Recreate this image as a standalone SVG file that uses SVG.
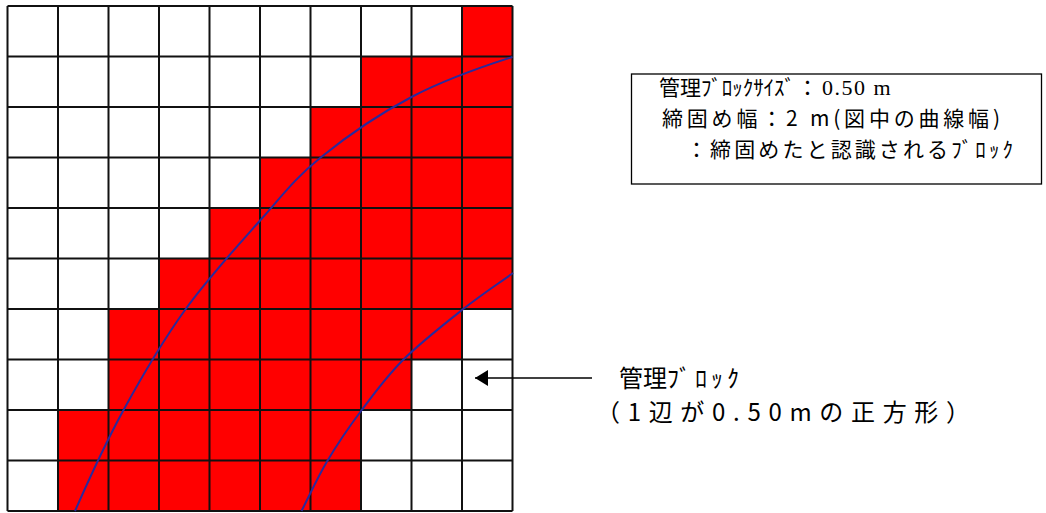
<svg xmlns="http://www.w3.org/2000/svg" width="1046" height="513" viewBox="0 0 1046 513">
<style>
.jp{font-family:"Noto Sans CJK JP","Noto Sans",sans-serif;fill:#000}
.lg{font-size:21px}
.lb{font-size:24px}
.serif{font-family:"Liberation Serif",serif;font-size:22px}
.grid{fill:none;stroke:#111;stroke-width:2}
.curve{fill:none;stroke:#2A2A9C;stroke-width:2}
.box{fill:#fff;stroke:#000;stroke-width:1.3}
.conn{stroke:#000;stroke-width:1.3;fill:none}
</style>
<defs>
<marker id="ah" markerWidth="14" markerHeight="16" refX="13" refY="8" orient="auto" markerUnits="userSpaceOnUse">
<path d="M0,0 L13,8 L0,16 Z" fill="#000"/>
</marker>
</defs>
<rect width="1046" height="513" fill="#fff"/>
<g id="grid">
<path d="M462,6 H512.5 V309 H462 V359.5 H411.5 V410 H361 V511 H58 V410 H108.5 V309 H159 V258.5 H209.5 V208 H260 V157.5 H310.5 V107 H361 V56.5 H462 Z" fill="#FF0000"/>
<path class="grid" d="M7.5,6 V511 M58,6 V511 M108.5,6 V511 M159,6 V511 M209.5,6 V511 M260,6 V511 M310.5,6 V511 M361,6 V511 M411.5,6 V511 M462,6 V511 M512.5,6 V511 M7.5,6 H512.5 M7.5,56.5 H512.5 M7.5,107 H512.5 M7.5,157.5 H512.5 M7.5,208 H512.5 M7.5,258.5 H512.5 M7.5,309 H512.5 M7.5,359.5 H512.5 M7.5,410 H512.5 M7.5,460.5 H512.5 M7.5,511 H512.5"/>
</g>
<g id="curves">
<path class="curve" d="M512.5,57 C480.1,67.3 443.6,80.2 411.5,97 C379.4,113.8 345.2,137.5 320,158 C294.8,178.5 283,194.7 260.5,220 C238,245.3 207.9,278.2 185,310 C162.1,341.8 141.3,377.5 123,411 C104.7,444.5 89.1,479 75,511"/>
<path class="curve" d="M513,273 C496,285.3 480.3,295.5 462,310 C443.7,324.5 419.8,343.2 403,360 C386.2,376.8 373.7,394.1 361,411 C348.3,427.9 336.9,444.8 327,461.5 C317.1,478.2 310,494.5 301.5,511"/>
</g>
<g id="legend">
<rect class="box" x="631.5" y="74" width="410" height="110"/>
<text class="jp lg" y="95"><tspan x="659" textLength="136" lengthAdjust="spacing">管理ﾌﾞﾛｯｸｻｲｽﾞ</tspan><tspan x="797">：</tspan><tspan class="serif" x="822" letter-spacing="1.5">0.50 m</tspan></text>
<text class="jp lg" x="662" y="126" textLength="338" lengthAdjust="spacing">締固め幅：2 m(図中の曲線幅)</text>
<text class="jp lg" x="686" y="157" textLength="327" lengthAdjust="spacing">：締固めたと認識されるﾌﾞﾛｯｸ</text>
</g>
<g id="label-block">
<text class="jp lb" y="387"><tspan x="619">管理</tspan><tspan x="667" textLength="72" lengthAdjust="spacing">ﾌﾞﾛｯｸ</tspan></text>
<text class="jp lb" x="596" y="421" textLength="374" lengthAdjust="spacing">（1辺が0.50mの正方形）</text>
</g>
<g id="connectors">
<line class="conn" x1="592" y1="378" x2="475" y2="378" marker-end="url(#ah)"/>
</g>
</svg>
